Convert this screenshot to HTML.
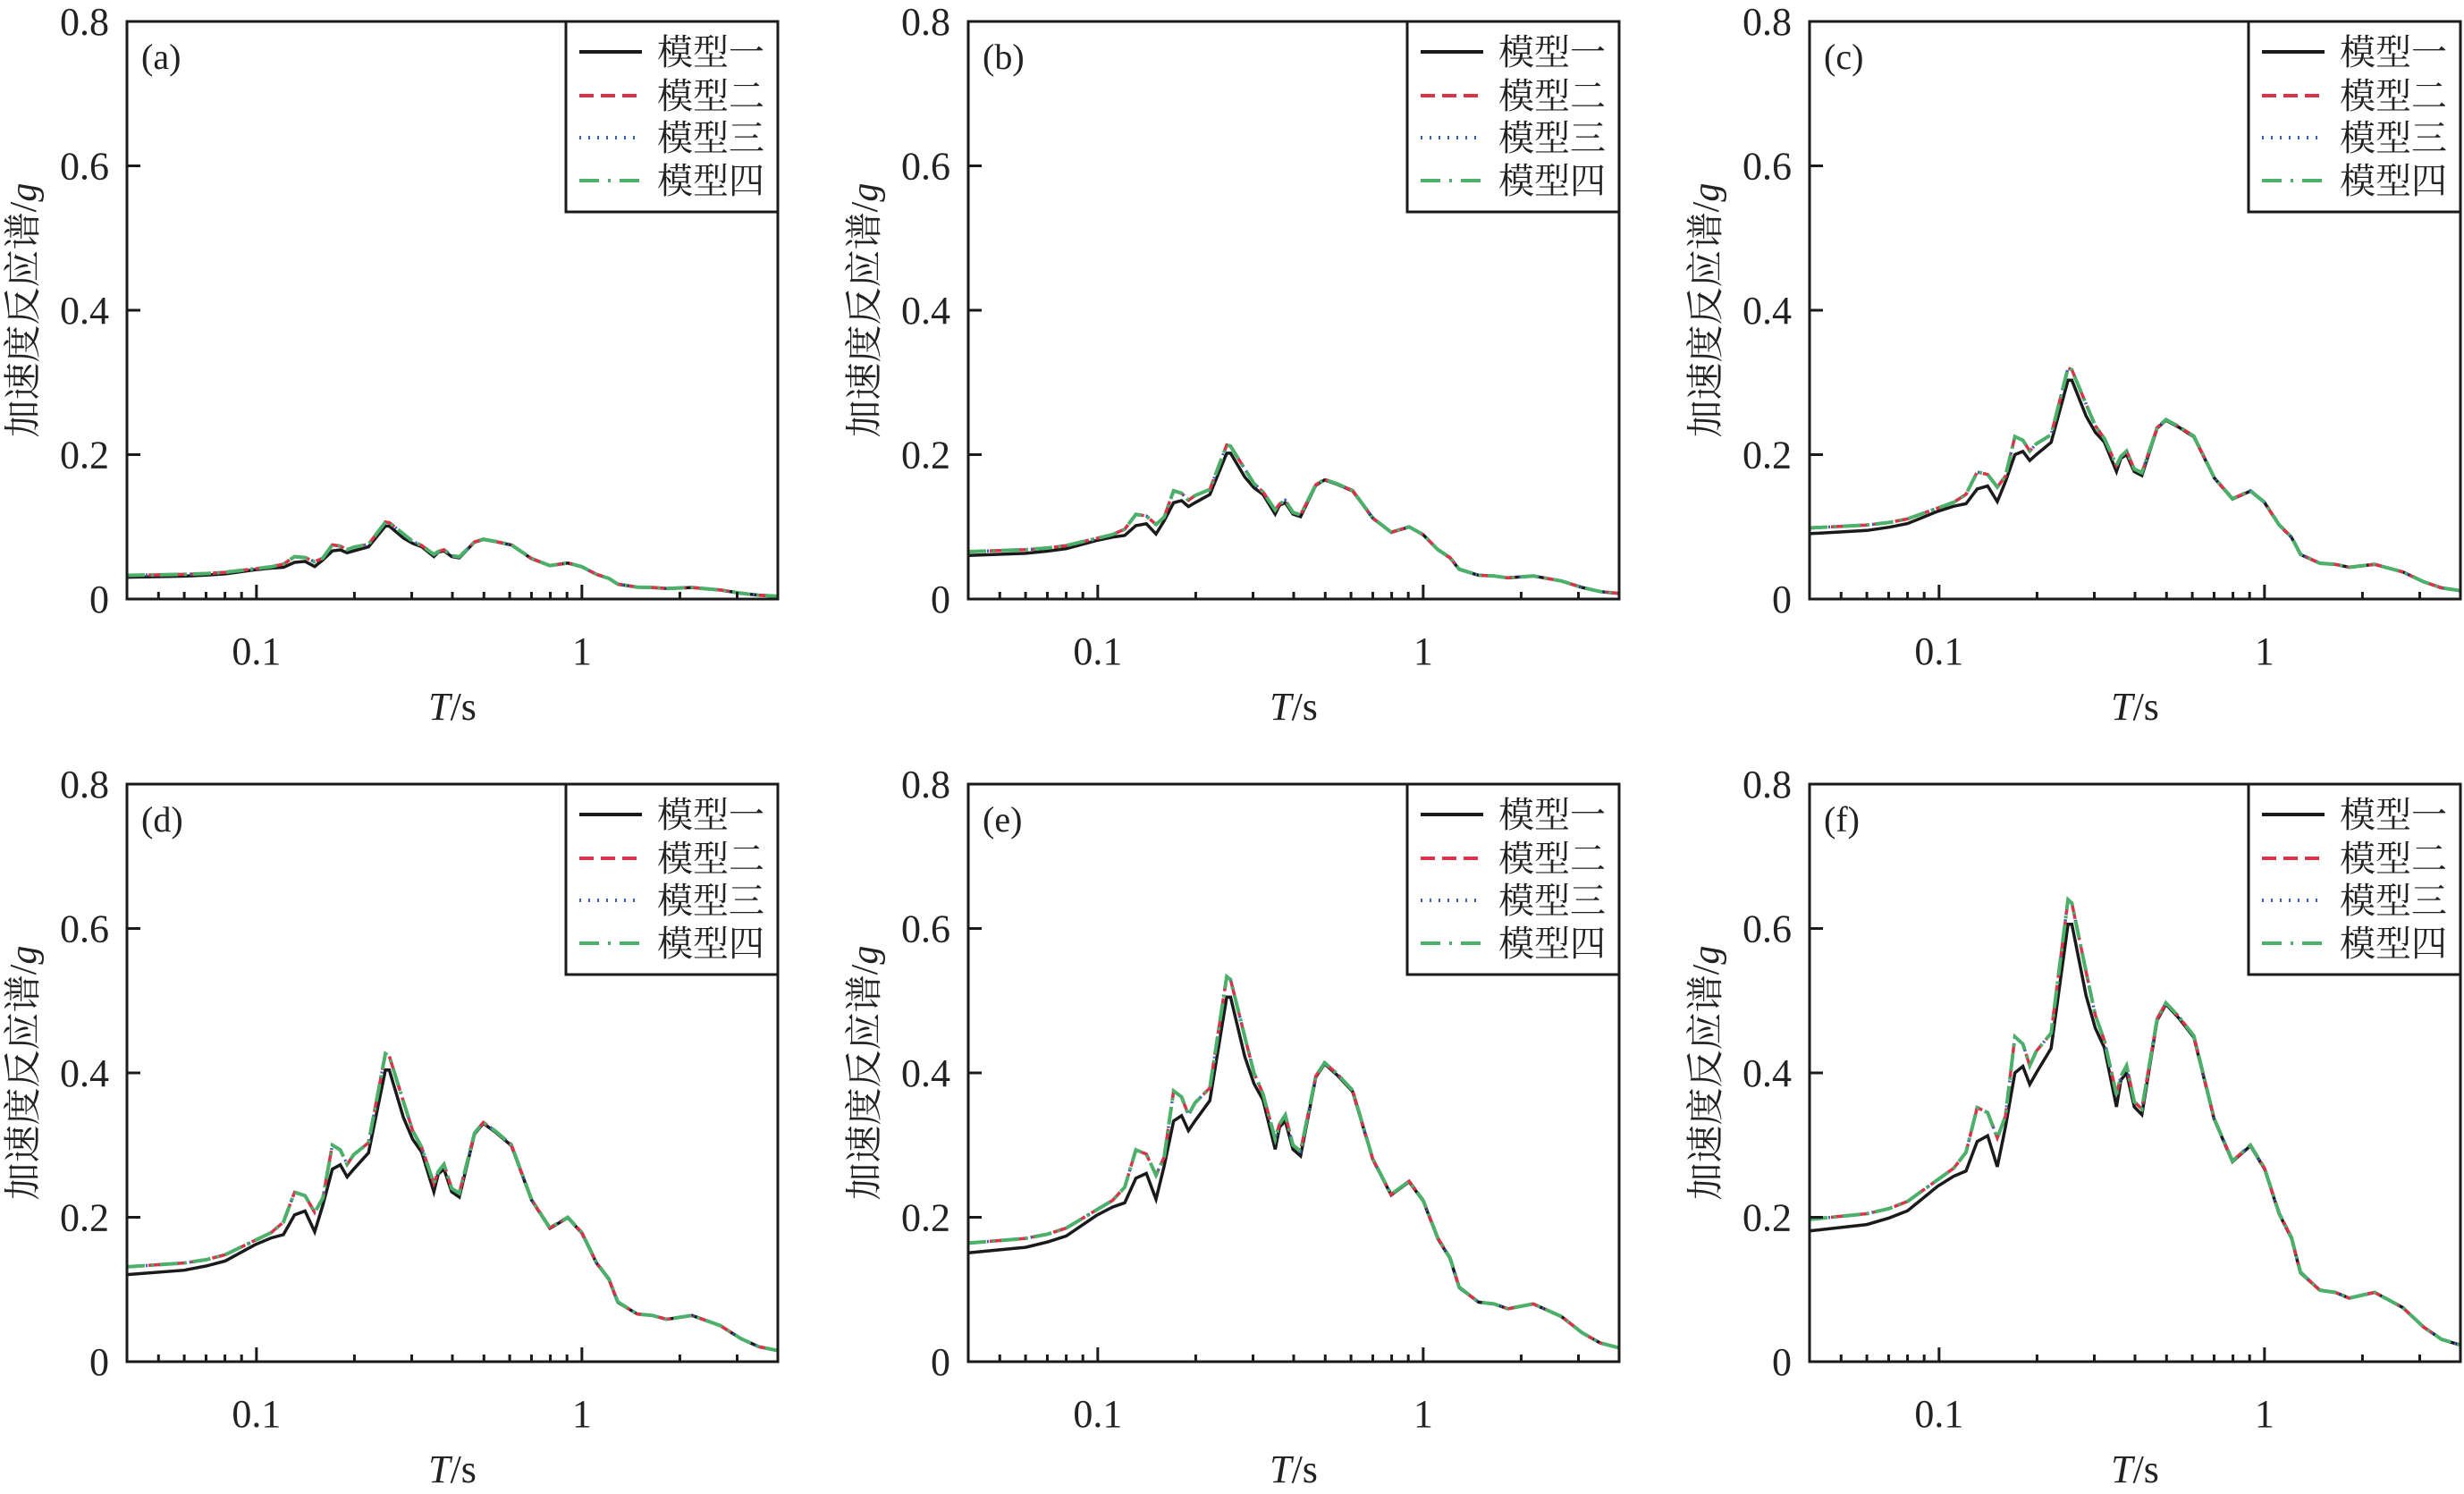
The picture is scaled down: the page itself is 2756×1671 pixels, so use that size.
<!DOCTYPE html>
<html><head><meta charset="utf-8"><style>
html,body{margin:0;padding:0;background:#fff;}
svg{display:block;}
text{font-family:"Liberation Serif","Noto Serif CJK SC",serif;fill:#222;}
.cjk{font-family:"Liberation Serif","Noto Serif CJK SC","Noto Sans CJK SC",serif;}
</style></head><body>
<svg id="s" xmlns="http://www.w3.org/2000/svg" width="2756" height="1671" viewBox="0 0 2756 1671"></svg>
<script>
var black=[[0.04,0.181],[0.06,0.19],[0.0702,0.199],[0.08,0.209],[0.099,0.243],[0.111,0.257],[0.121,0.264],[0.131,0.305],[0.141,0.313],[0.151,0.27],[0.16,0.325],[0.171,0.40],[0.181,0.409],[0.19,0.384],[0.199,0.40],[0.221,0.434],[0.249,0.606],[0.256,0.606],[0.283,0.507],[0.302,0.462],[0.322,0.435],[0.351,0.353],[0.362,0.39],[0.377,0.40],[0.398,0.353],[0.42,0.342],[0.468,0.473],[0.498,0.495],[0.545,0.476],[0.607,0.449],[0.70,0.336],[0.797,0.277],[0.905,0.299],[1.0,0.267],[1.108,0.205],[1.21,0.171],[1.29,0.123],[1.48,0.099],[1.65,0.096],[1.82,0.088],[2.18,0.096],[2.66,0.075],[3.08,0.048],[3.5,0.031],[4.0,0.023]];
var col=[[0.04,0.197],[0.06,0.205],[0.0702,0.212],[0.08,0.222],[0.099,0.252],[0.111,0.268],[0.121,0.29],[0.131,0.352],[0.141,0.345],[0.151,0.31],[0.16,0.34],[0.171,0.45],[0.181,0.44],[0.19,0.41],[0.199,0.43],[0.221,0.455],[0.249,0.64],[0.256,0.635],[0.283,0.54],[0.302,0.48],[0.322,0.445],[0.351,0.37],[0.362,0.395],[0.377,0.41],[0.398,0.36],[0.42,0.35],[0.468,0.475],[0.498,0.497],[0.545,0.478],[0.607,0.451],[0.70,0.337],[0.797,0.278],[0.905,0.300],[1.0,0.268],[1.108,0.206],[1.21,0.172],[1.29,0.124],[1.48,0.099],[1.65,0.096],[1.82,0.088],[2.18,0.096],[2.66,0.075],[3.08,0.048],[3.5,0.031],[4.0,0.023]];
var s='';
var cols=[142,1083,2024],rows=[[24,670],[877,1523]];
var W=728,DEC=364,labs=['a','b','c','d','e','f'];
function X(L,t){return L+(Math.log10(t)-Math.log10(0.04))*DEC;}
function path(d,L,T,B,k){var h=B-T;return d.map(function(p,i){return (i?'L':'M')+X(L,p[0]).toFixed(1)+','+(B-p[1]*k/0.8*h).toFixed(1);}).join('');}
for(var r=0;r<2;r++)for(var c=0;c<3;c++){
 var L=cols[c],T=rows[r][0],B=rows[r][1],R=L+W,h=B-T,k=(r*3+c+1)/6;
 var cp=path(col,L,T,B,k);
 s+='<path d="'+path(black,L,T,B,k)+'" fill="none" stroke="#1a1a1a" stroke-width="3.5"/>';
 s+='<path d="'+cp+'" fill="none" stroke="#3a5fb0" stroke-width="3.5" stroke-dasharray="2,5"/>';
 s+='<path d="'+cp+'" fill="none" stroke="#d9344a" stroke-width="3.5" stroke-dasharray="16,8"/>';
 s+='<path d="'+cp+'" fill="none" stroke="#4caf6a" stroke-width="4" stroke-dasharray="20,7,3,7"/>';
 s+='<rect x="'+L+'" y="'+T+'" width="'+W+'" height="'+h+'" fill="none" stroke="#1a1a1a" stroke-width="3"/>';
 var ts=[0.05,0.06,0.07,0.08,0.09,0.1,0.2,0.3,0.4,0.5,0.6,0.7,0.8,0.9,1,2,3];
 ts.forEach(function(t){var x=X(L,t),len=(t==0.1||t==1)?16:8;s+='<line x1="'+x+'" y1="'+B+'" x2="'+x+'" y2="'+(B-len)+'" stroke="#1a1a1a" stroke-width="3"/>';});
 s+='<text x="'+X(L,0.1)+'" y="'+(B+73)+'" font-size="44" text-anchor="middle">0.1</text>';
 s+='<text x="'+X(L,1)+'" y="'+(B+73)+'" font-size="44" text-anchor="middle">1</text>';
 ['0','0.2','0.4','0.6','0.8'].forEach(function(v,i){var y=B-i*h/4;
  if(i>0&&i<4)s+='<line x1="'+L+'" y1="'+y+'" x2="'+(L+15)+'" y2="'+y+'" stroke="#1a1a1a" stroke-width="3"/>';
  s+='<text x="'+(L-20)+'" y="'+(y+15)+'" font-size="44" text-anchor="end">'+v+'</text>';});
 s+='<text x="'+(L+364)+'" y="'+(B+135)+'" font-size="44" text-anchor="middle"><tspan font-style="italic">T</tspan>/s</text>';
 var cy=(T+B)/2;
 s+='<text class="cjk" transform="translate('+(L-102)+','+cy+') rotate(-90)" font-size="42" text-anchor="middle">加速度反应谱/<tspan font-style="italic">g</tspan></text>';
 s+='<text x="'+(L+16)+'" y="'+(T+53)+'" font-size="40">('+labs[r*3+c]+')</text>';
 var lx=L+491;
 s+='<rect x="'+lx+'" y="'+T+'" width="'+(R-lx)+'" height="213" fill="#fff" stroke="#1a1a1a" stroke-width="3"/>';
 var ly=[34,83,130,178],st=[['#1a1a1a',''],['#d9344a','16,8'],['#3a5fb0','2,8'],['#4caf6a','22,10,3,10']],nm=['模型一','模型二','模型三','模型四'];
 for(var i=0;i<4;i++){var y=T+ly[i];
  s+='<line x1="'+(lx+15)+'" y1="'+y+'" x2="'+(lx+85)+'" y2="'+y+'" stroke="'+st[i][0]+'" stroke-width="4"'+(st[i][1]?' stroke-dasharray="'+st[i][1]+'"':'')+'/>';
  s+='<text class="cjk" x="'+(lx+102)+'" y="'+(y+14)+'" font-size="40">'+nm[i]+'</text>';}
}
document.getElementById('s').innerHTML=s;
</script>
</body></html>
